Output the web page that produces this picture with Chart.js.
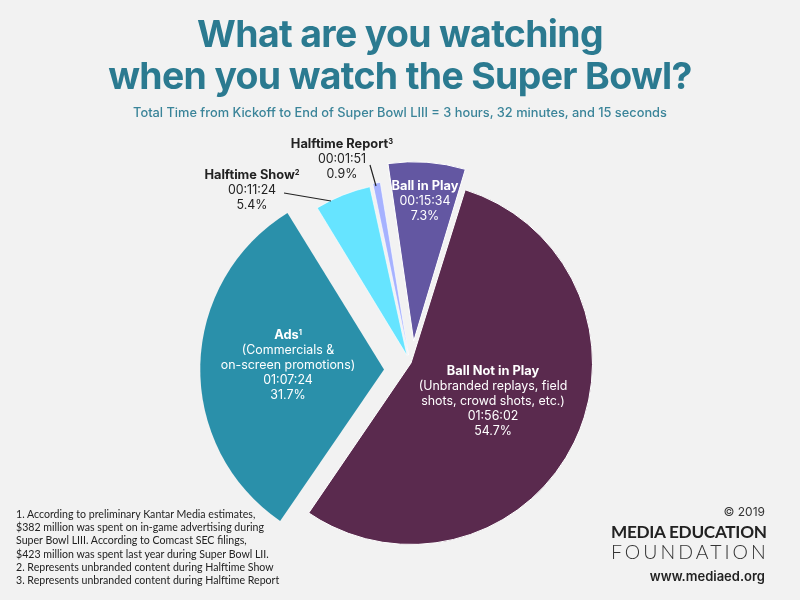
<!DOCTYPE html>
<html>
<head>
<meta charset="utf-8">
<script src="https://cdn.jsdelivr.net/npm/chart.js@4"></script>
<style>
  html, body { margin: 0; padding: 0; background: #f2f2f2; }
  #wrap { position: relative; width: 800px; height: 600px; overflow: hidden; font-family: Inter, "Open Sans", sans-serif; color: #222; }
  #chart { position: absolute; left: 0; top: 0; }
  .abs { position: absolute; white-space: nowrap; }
  #title { left: 0; width: 800px; top: 13px; text-align: center; color: #2b7a90; font-size: 37.4px; line-height: 42px; font-weight: 700; letter-spacing: -0.65px; }
  #subtitle { left: 0; width: 800px; top: 105px; text-align: center; color: #3a8499; font-size: 12.8px; line-height: 16px; font-weight: 500; }
  .lab { transform: translateX(-50%); text-align: center; font-size: 12.4px; line-height: 15px; font-weight: 400; }
  .lab b { font-weight: 700; font-size: 12.8px; }
  .lab sup { font-size: 7.5px; line-height: 0; vertical-align: 4px; }
  .white { color: #fff; }
  #notes { left: 16px; top: 508px; font-family: Lato, sans-serif; font-size: 10.6px; line-height: 13.2px; color: #222; }
  #copy { right: 35px; top: 504px; font-size: 12px; line-height: 15px; color: #333; }
  #mef1 { left: 611px; top: 520px; font-family: Lato, sans-serif; font-size: 17.2px; line-height: 24px; font-weight: 700; letter-spacing: -0.3px; color: #222; }
  #mef2 { left: 611px; top: 540px; font-family: Lato, sans-serif; font-size: 19.5px; line-height: 24px; font-weight: 300; letter-spacing: 3px; color: #333; }
  #web { right: 35px; top: 568px; font-size: 13px; line-height: 16px; font-weight: 600; color: #222; }
</style>
</head>
<body>
<div id="wrap">
  <canvas id="chart" width="800" height="600"></canvas>
  <div id="title" class="abs">What are you watching<br>when you watch the Super Bowl?</div>
  <div id="subtitle" class="abs">Total Time from Kickoff to End of Super Bowl LIII = 3 hours, 32 minutes, and 15 seconds</div>
  <div id="notes" class="abs">1. According to preliminary Kantar Media estimates,<br>$382 million was spent on in-game advertising during<br>Super Bowl LIII. According to Comcast SEC filings,<br>$423 million was spent last year during Super Bowl LII.<br>2. Represents unbranded content during Halftime Show<br>3. Represents unbranded content during Halftime Report</div>
  <div id="copy" class="abs">© 2019</div>
  <div id="mef1" class="abs">MEDIA EDUCATION</div>
  <div id="mef2" class="abs">FOUNDATION</div>
  <div id="web" class="abs">www.mediaed.org</div>
</div>
<script>
const categories = ["Ball in Play", "Ball Not in Play", "Ads", "Halftime Show", "Halftime Report"];
const percents = [7.3, 54.7, 31.7, 5.4, 0.9];
const durations = ["00:15:34", "01:56:02", "01:07:24", "00:11:24", "00:01:51"];
const notes = ["", "(Unbranded replays, field<br>shots, crowd shots, etc.)", "(Commercials &amp;<br>on-screen promotions)", "", ""];
const marks = ["", "", "1", "2", "3"];

const colors = ["#6357a2", "#5a2a4e", "#2a90aa", "#66e4ff", "#a6b2ff"];
// chart.js draws an arc's offset at a quarter of the option value
const offsets = [92, 0, 104, 32, 32];
const borders = [1, 1, 0, 0.6, 0.6];
const radiusTrim = [15, 0, 0, 14, 14];
const nudgeX = [2, 1, 0, 0, 0];
const nudgeY = [1, 0, 7, 0, 0];
const labelBoxes = [[425, 178, true], [493, 363, true], [288, 327, true], [252, 167, false], [342, 136, false]];

// slices in the original are not all one radius, and the ads slice sits lower
const trimPlugin = {
    id: "trim",
    afterDatasetsUpdate(chart) {
        chart.getDatasetMeta(0).data.forEach((arc, i) => {
            arc.outerRadius -= radiusTrim[i];
            arc.x += nudgeX[i];
            arc.y += nudgeY[i];
        });
    }
};

const leaderPlugin = {
    id: "leaders",
    afterDraw(chart) {
        const ctx = chart.ctx;
        ctx.save();
        ctx.strokeStyle = "#222";
        ctx.lineWidth = 1.2;
        ctx.beginPath();
        ctx.moveTo(284, 193);
        ctx.lineTo(331, 201);
        ctx.moveTo(370, 165);
        ctx.lineTo(376, 186);
        ctx.stroke();
        ctx.restore();
    }
};

new Chart(document.getElementById("chart"), {
    type: "pie",
    data: {
        labels: categories,
        datasets: [{
            data: percents,
            backgroundColor: colors,
            borderColor: "#ffffff",
            borderWidth: borders,
            offset: offsets
        }]
    },
    options: {
        responsive: false,
        animation: false,
        rotation: -8.9,
        layout: { padding: { top: 129, bottom: 3, left: 20, right: 0 } },
        plugins: { legend: { display: false }, tooltip: { enabled: false } }
    },
    plugins: [trimPlugin, leaderPlugin]
});

const wrap = document.getElementById("wrap");
categories.forEach((name, i) => {
    const div = document.createElement("div");
    div.className = "abs lab" + (labelBoxes[i][2] ? " white" : "");
    div.style.left = labelBoxes[i][0] + "px";
    div.style.top = labelBoxes[i][1] + "px";
    let html = "<b>" + name + (marks[i] ? "<sup>" + marks[i] + "</sup>" : "") + "</b><br>";
    if (notes[i]) html += notes[i] + "<br>";
    html += durations[i] + "<br>" + percents[i].toFixed(1) + "%";
    div.innerHTML = html;
    wrap.appendChild(div);
});
</script>
</body>
</html>
